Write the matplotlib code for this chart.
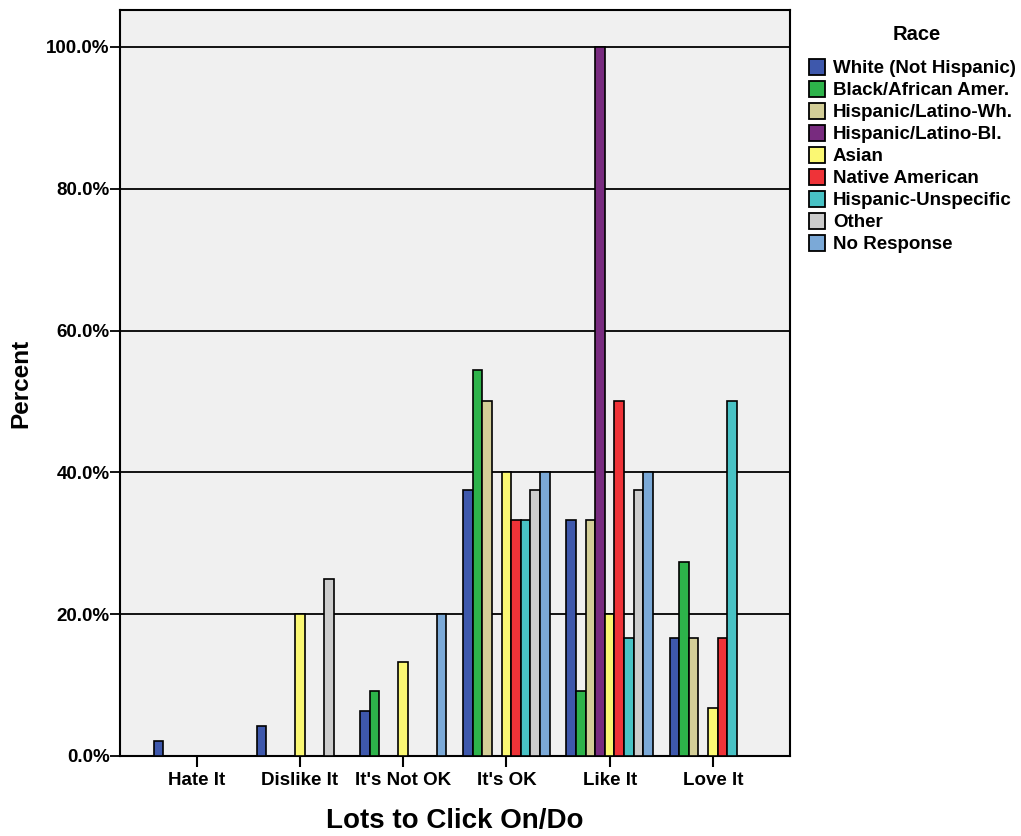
import numpy as np
import matplotlib.pyplot as plt
from matplotlib.patches import Patch

plt.rcParams['font.family'] = ['Liberation Sans', 'DejaVu Sans']
plt.rcParams['font.weight'] = 'bold'

categories = ['Hate It', 'Dislike It', "It's Not OK", "It's OK", 'Like It', 'Love It']
races = ['White (Not Hispanic)', 'Black/African Amer.', 'Hispanic/Latino-Wh.',
         'Hispanic/Latino-Bl.', 'Asian', 'Native American', 'Hispanic-Unspecific',
         'Other', 'No Response']
colors = ['#3e58ac', '#2db34a', '#d3ce97', '#782b7f', '#fbf873',
          '#ef3338', '#48c2c5', '#cccccc', '#7ba9d7']

white = [2.1, 4.2, 6.3, 37.5, 33.3, 16.7]
black = [0, 0, 9.1, 54.5, 9.1, 27.3]
hisp_wh = [0, 0, 0, 50.0, 33.3, 16.7]
hisp_bl = [0, 0, 0, 0, 100.0, 0]
asian = [0, 20.0, 13.3, 40.0, 20.0, 6.7]
native = [0, 0, 0, 33.3, 50.0, 16.7]
hisp_un = [0, 0, 0, 33.3, 16.7, 50.0]
other = [0, 25.0, 0, 37.5, 37.5, 0]
no_resp = [0, 0, 20.0, 40.0, 40.0, 0]
series = [white, black, hisp_wh, hisp_bl, asian, native, hisp_un, other, no_resp]

fig = plt.figure(figsize=(10.21, 8.36), dpi=100)
ax = fig.add_axes([0.1175, 0.0957, 0.656, 0.8923])
ax.set_facecolor('#f0f0f0')

x = np.arange(len(categories))
w = 0.093
for i, vals in enumerate(series):
    vals = np.array(vals, dtype=float)
    m = vals > 0
    ax.bar(x[m] + (i - 4) * w, vals[m], width=w, color=colors[i],
           edgecolor='black', linewidth=1.2, zorder=3)

for g in [20, 40, 60, 80, 100]:
    ax.axhline(g, color='black', linewidth=1.3, zorder=2)

ax.set_xlim(-0.745, 5.745)
ax.set_ylim(0, 105.2)
ax.set_xticks(x)
ax.set_xticklabels(categories, fontsize=13.5, fontweight='bold')
ax.set_yticks([0, 20, 40, 60, 80, 100])
ax.set_yticklabels(['%.1f%%' % v for v in [0, 20, 40, 60, 80, 100]],
                   fontsize=13.5, fontweight='bold')
ax.tick_params(axis='x', length=8, width=1.5, direction='out', pad=3.5)
ax.tick_params(axis='y', length=7, width=1.3, direction='out', pad=0.5)
for s in ax.spines.values():
    s.set_linewidth(1.5)

ax.set_xlabel('Lots to Click On/Do', fontsize=20, fontweight='bold', labelpad=14)
ax.set_ylabel('Percent', fontsize=17.5, fontweight='bold', labelpad=10)

# legend title placed separately to get the wider gap above the entries
fig.text(917 / 1021, 1 - 34 / 836, 'Race', ha='center', va='center',
         fontsize=14.5, fontweight='bold')
handles = [Patch(facecolor=c, edgecolor='black', linewidth=1.3) for c in colors]
leg = fig.legend(handles, races, loc='upper left', bbox_to_anchor=(0.792, 1 - 59 / 836),
                 frameon=False, fontsize=13.5,
                 handlelength=0.85, handleheight=0.9, handletextpad=0.45,
                 labelspacing=0.2, borderaxespad=0, borderpad=0)

plt.savefig('out.png', dpi=100)
